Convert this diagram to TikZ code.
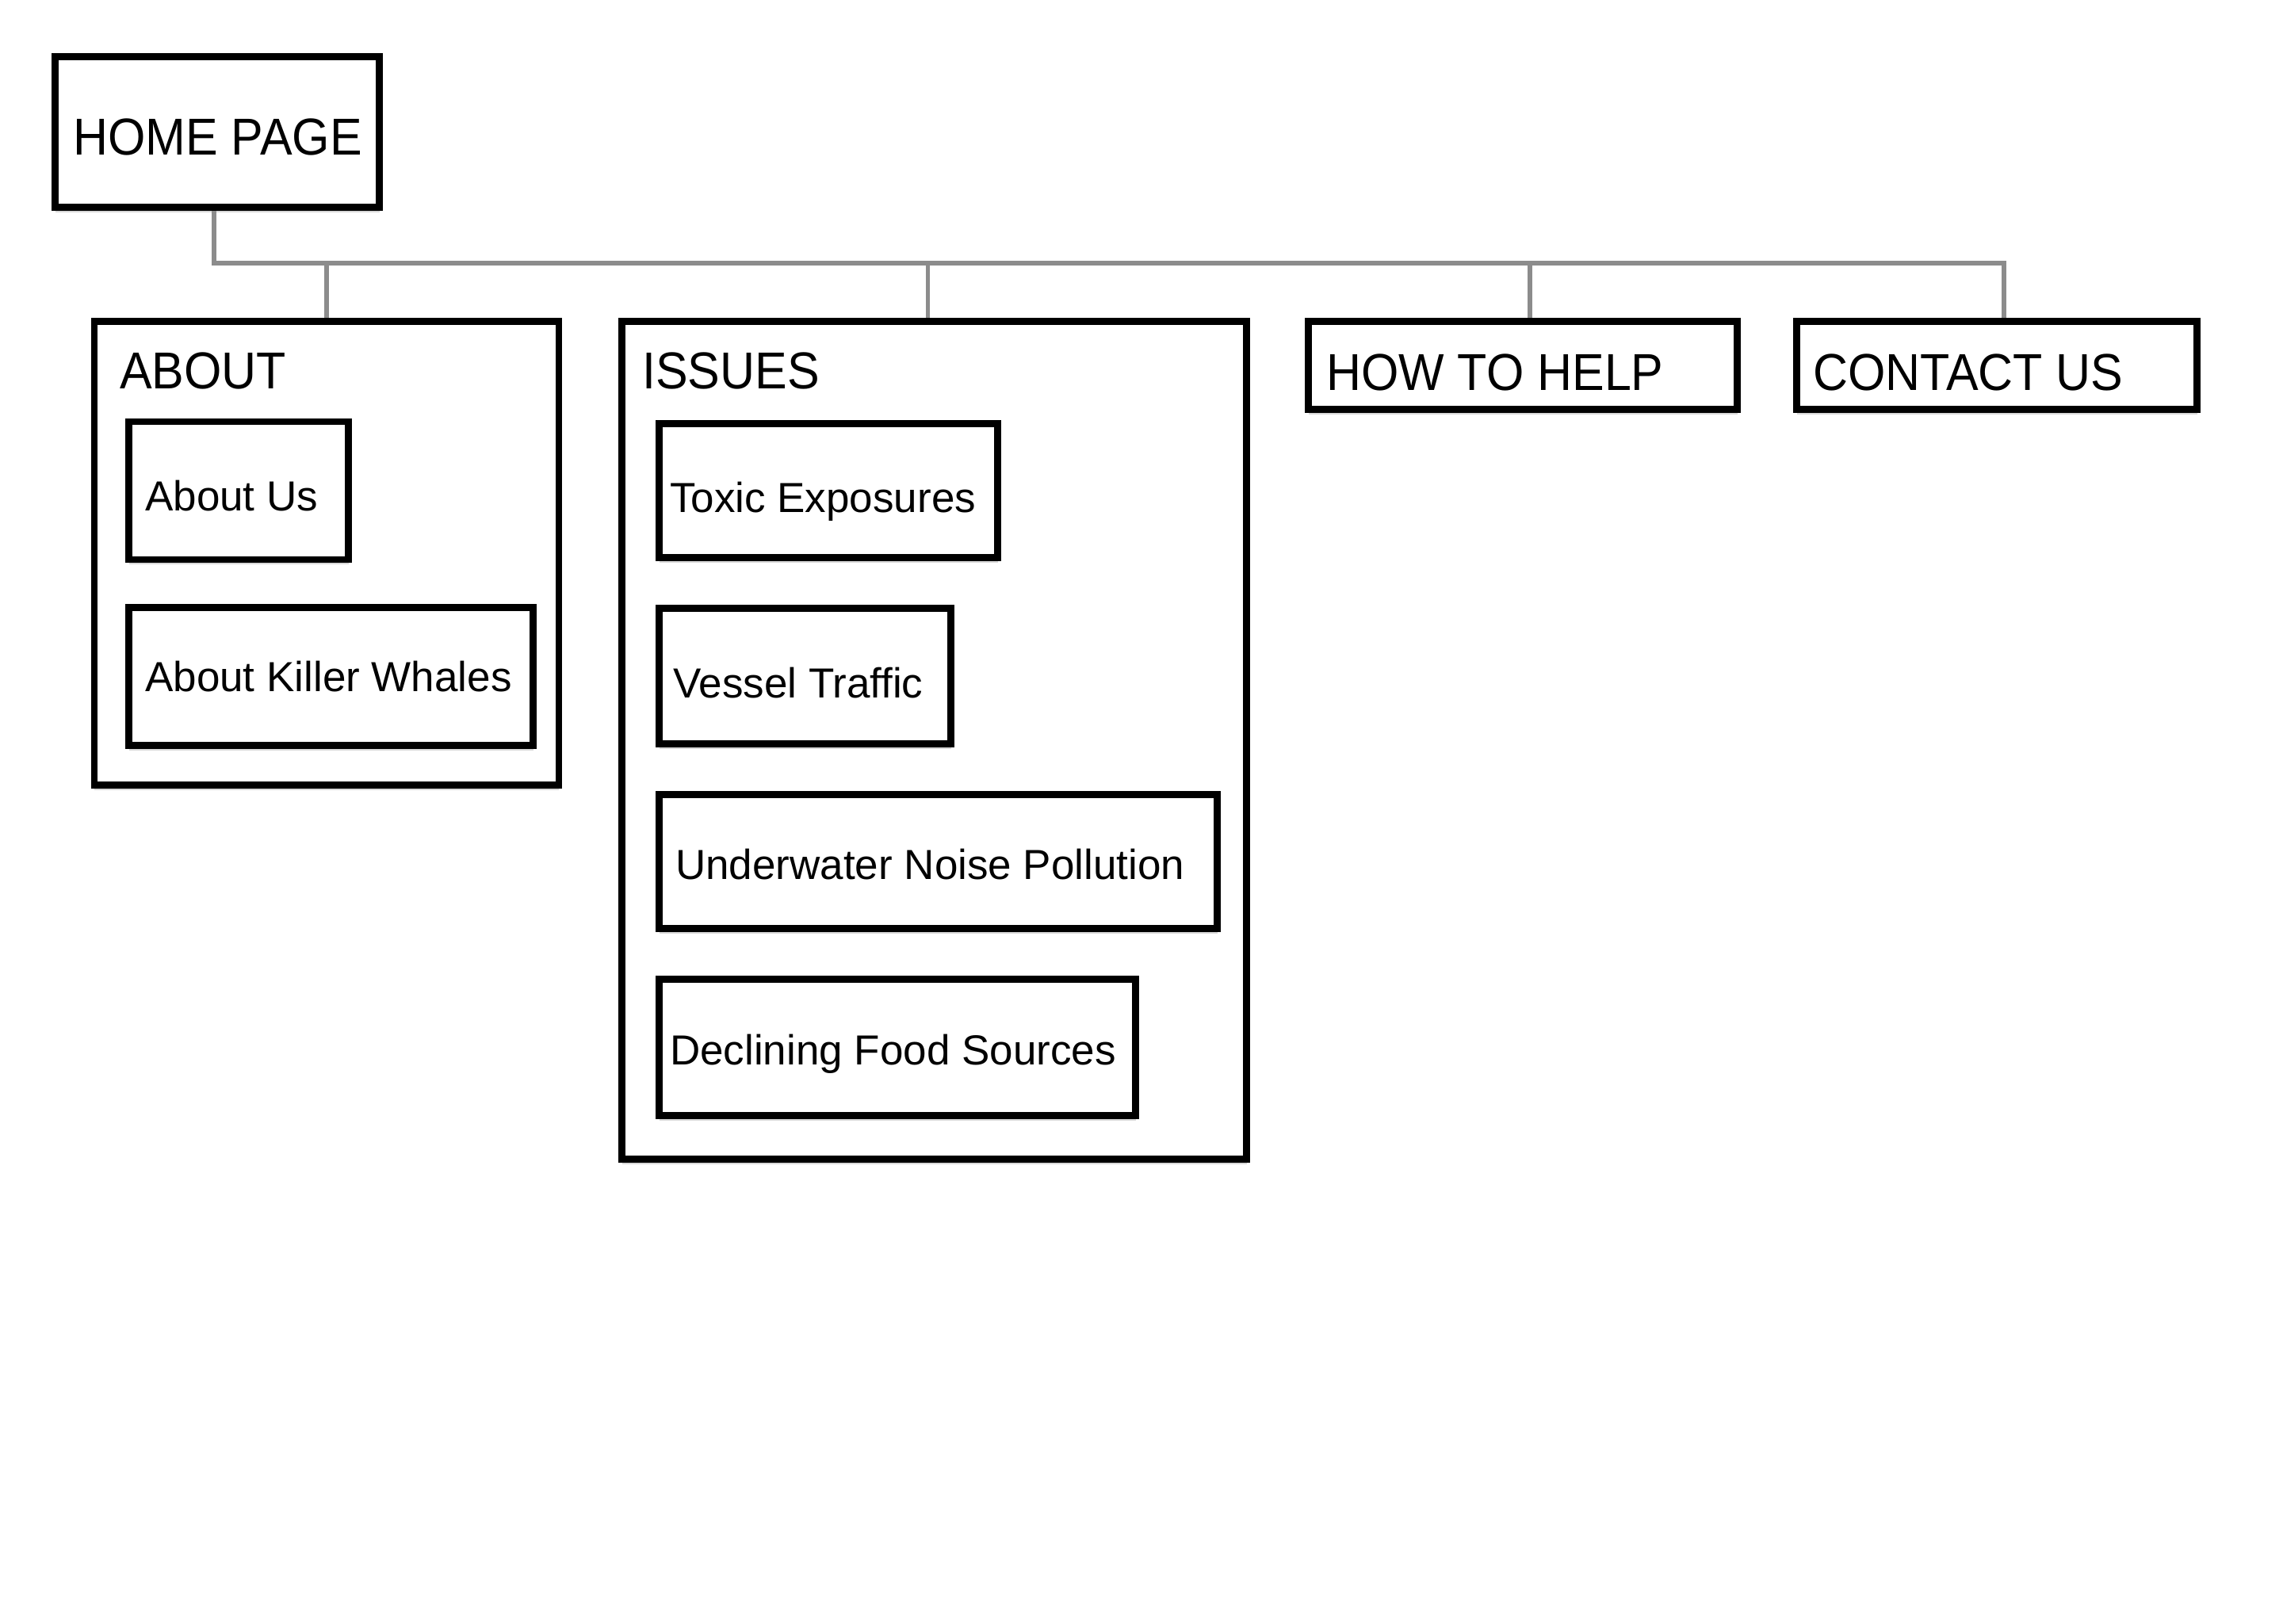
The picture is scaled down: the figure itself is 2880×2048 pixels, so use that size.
\documentclass[tikz,border=0pt]{standalone}
\usepackage{fontspec}
\setmainfont{Liberation Sans}
\newfontfamily\capfont[FakeStretch=0.93]{Liberation Sans}
\usetikzlibrary{shadows}
\begin{document}
\begin{tikzpicture}[x=1pt,y=-1pt,
  box/.style={draw=black, line width=8.5pt, fill=white, rectangle, inner sep=0pt,
    drop shadow={shadow xshift=0pt, shadow yshift=-6pt, opacity=0.25, fill=black!60}},
  conn/.style={draw=black!45, line width=5.5pt},
  toplbl/.style={anchor=base west, inner sep=0pt, font=\capfont\fontsize{65.5}{70}\selectfont},
  sublbl/.style={anchor=base west, inner sep=0pt, font=\fontsize{53}{60}\selectfont}]
\useasboundingbox[fill=white] (0,0) rectangle (2880,2048);

% top-level boxes
\node[box, minimum width=409pt, minimum height=190pt] (home) at (274,166.5) {};
\node[box, minimum width=586pt, minimum height=585pt] (about) at (412,698) {};
\node[box, minimum width=788pt, minimum height=1057pt] (issues) at (1178.5,934) {};
\node[box, minimum width=541pt, minimum height=111pt] (howto) at (1921,461) {};
\node[box, minimum width=505pt, minimum height=111pt] (contact) at (2519,461) {};

% sub boxes
\node[box, minimum width=277pt, minimum height=174pt] (aboutus) at (301,619) {};
\node[box, minimum width=510pt, minimum height=174pt] (killer) at (417.5,853.5) {};
\node[box, minimum width=427pt, minimum height=169pt] (toxic) at (1045,619) {};
\node[box, minimum width=368pt, minimum height=171pt] (vessel) at (1015.5,853) {};
\node[box, minimum width=704pt, minimum height=169pt] (noise) at (1183.5,1087) {};
\node[box, minimum width=601pt, minimum height=172pt] (food) at (1132,1321.5) {};

% labels
\node[toplbl] (homet) at (92,195) {HOME PAGE};
\node[toplbl] (aboutt) at (151,490) {ABOUT};
\node[toplbl] (issuest) at (810,490) {ISSUES};
\node[toplbl] (howtot) at (1673,492) {HOW TO HELP};
\node[toplbl] (contactt) at (2287,492) {CONTACT US};
\node[sublbl] (aboutust) at (183,644) {About Us};
\node[sublbl] (killert) at (183,872) {About Killer Whales};
\node[sublbl] (toxict) at (845,646) {Toxic Exposures};
\node[sublbl] (vesselt) at (849,880) {Vessel Traffic};
\node[sublbl] (noiset) at (852,1109) {Underwater Noise Pollution};
\node[sublbl] (foodt) at (845,1343) {Declining Food Sources};

% connectors
\coordinate (bus) at (270,332);
\coordinate (hs) at ([xshift=-4pt]home.south);
\coordinate (is) at ([xshift=-8pt]issues.north);
\coordinate (hw) at ([xshift=9pt]howto.north);
\coordinate (ct) at ([xshift=9pt]contact.north);
\draw[conn] (hs) -- (hs |- bus) -| (ct);
\draw[conn] (about.north) -- (about.north |- bus);
\draw[conn] (is) -- (is |- bus);
\draw[conn] (hw) -- (hw |- bus);
\end{tikzpicture}
\end{document}
